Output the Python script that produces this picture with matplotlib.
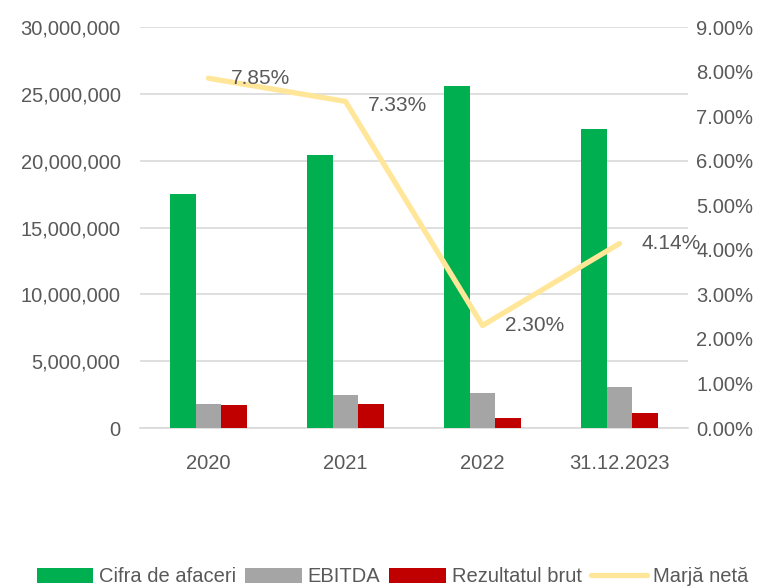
import numpy as np
import matplotlib.pyplot as plt
from matplotlib.ticker import FuncFormatter

categories = ["2020", "2021", "2022", "31.12.2023"]
cifra = [17500000, 20400000, 25600000, 22350000]
ebitda = [1800000, 2470000, 2620000, 3060000]
rezultat = [1700000, 1800000, 750000, 1100000]
marja = [7.85, 7.33, 2.30, 4.14]

green = "#00B050"
grey = "#A5A5A5"
red = "#C00000"
yellow = "#FFE699"
txt = "#595959"

plt.rcParams['font.family'] = ['Liberation Sans', 'DejaVu Sans']

fig = plt.figure(figsize=(7.7, 5.88), dpi=100)
ax = fig.add_axes([140/770, 1-428/588, 548/770, 401/588])
ax2 = ax.twinx()

x = np.arange(len(categories))
w = 0.185
ax.bar(x - w, cifra, w, color=green, label="Cifra de afaceri", zorder=3)
ax.bar(x, ebitda, w, color=grey, label="EBITDA", zorder=3)
ax.bar(x + w, rezultat, w, color=red, label="Rezultatul brut", zorder=3)
ax2.plot(x, marja, color=yellow, lw=3.8, label="Marjă netă", solid_capstyle='round')

for xi, v in zip(x, marja):
	dy = -3 if xi == 1 else 0
	ax2.annotate(f"{v:.2f}%", (xi, v), xytext=(16, dy), textcoords='offset points',
				 ha='left', va='center', fontsize=15, color=txt)

ax.set_xlim(-0.5, 3.5)
ax.set_ylim(0, 30000000)
ax.set_yticks(np.arange(0, 30000001, 5000000))
ax.yaxis.set_major_formatter(FuncFormatter(lambda v, p: f"{int(v):,}"))
ax2.set_ylim(0, 9)
ax2.set_yticks(np.arange(0, 9.01, 1))
ax2.yaxis.set_major_formatter(FuncFormatter(lambda v, p: f"{v:.2f}%"))
ax.set_xticks(x)
ax.set_xticklabels(categories)

ax.grid(axis='y', color="#D9D9D9", lw=1.2, zorder=0)
for a in (ax, ax2):
	for s in a.spines.values():
		s.set_visible(False)
	a.tick_params(length=0, labelsize=14.5, colors=txt)
ax.spines['bottom'].set_visible(True)
ax.spines['bottom'].set_color("#D9D9D9")
ax.spines['bottom'].set_linewidth(1.2)
ax.tick_params(axis='x', pad=19)
ax.tick_params(axis='y', pad=14)
ax2.tick_params(axis='y', pad=6)

h1, l1 = ax.get_legend_handles_labels()
h2, l2 = ax2.get_legend_handles_labels()
fig.legend(h1 + h2, l1 + l2, loc='center', bbox_to_anchor=(0.51, 1-577/588), ncol=4,
		   frameon=False, fontsize=14.5, labelcolor=txt, handlelength=2.8, handletextpad=0.3,
		   columnspacing=0.45)

fig.savefig("out.png", dpi=100)
